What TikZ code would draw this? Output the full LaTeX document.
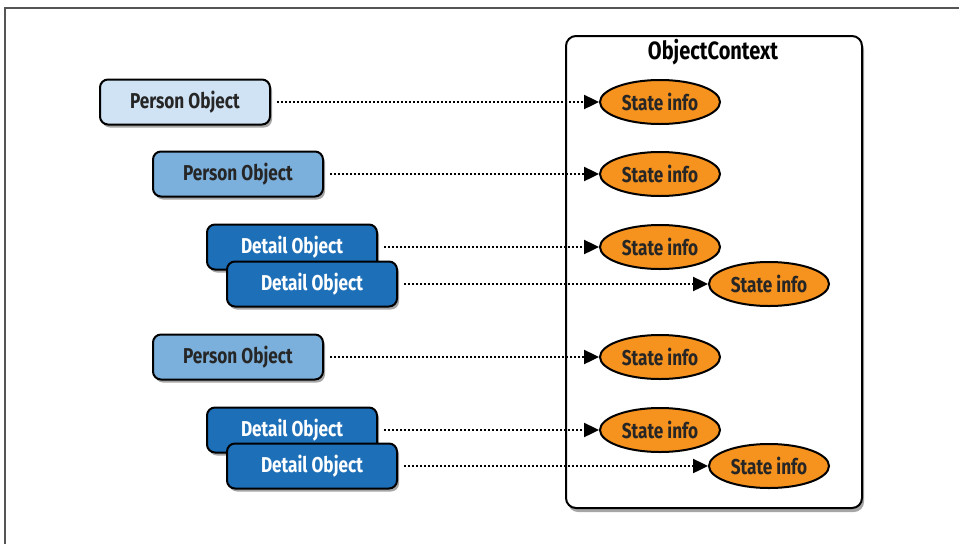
\documentclass[tikz,border=0pt]{standalone}
\usepackage{fontspec}
\setmainfont{Fira Sans}[FakeStretch=0.8]
\usetikzlibrary{shapes.geometric,shadows,arrows.meta}
\definecolor{lightblue}{HTML}{CFE3F4}
\definecolor{midblue}{HTML}{7BB0DC}
\definecolor{darkblue}{HTML}{1D6FB8}
\definecolor{orangefill}{HTML}{F6921E}
\definecolor{framegray}{HTML}{555555}
\tikzset{
  objbox/.style={draw=black, line width=2pt, rounded corners=8pt, minimum width=170pt, minimum height=45pt,
    inner sep=0pt, font=\fontsize{21.5}{24}\selectfont\bfseries,
    drop shadow={shadow xshift=2pt, shadow yshift=-3pt, opacity=0.35, fill=black}},
  person1/.style={objbox, fill=lightblue, text=black!85},
  person2/.style={objbox, fill=midblue, text=black!85},
  detail/.style={objbox, fill=darkblue, text=white},
  stateinfo/.style={ellipse, draw=black, line width=2pt, fill=orangefill, minimum width=120pt, minimum height=44pt,
    inner sep=0pt, font=\fontsize{21.5}{24}\selectfont\bfseries, text=black!85},
  ctxbox/.style={draw=black, line width=2pt, rounded corners=10pt, fill=white,
    drop shadow={shadow xshift=2pt, shadow yshift=-4pt, opacity=0.35, fill=black}},
  conn/.style={line width=2.4pt, dash pattern=on 2.2pt off 1.8pt, shorten <=6pt,
    -{Triangle[length=15pt,width=14pt]}},
}
\begin{document}
\begin{tikzpicture}[x=1pt,y=-1pt]
\useasboundingbox (0,0) rectangle (959,544);
\fill[white] (0,0) rectangle (959,544);
% outer frame (top and left edges)
\coordinate (ftl) at (5,8);
\coordinate (ftr) at (959,8);
\coordinate (fbl) at (5,544);
\draw[framegray, line width=2pt] (fbl) -- (ftl) -- (ftr);
% context box
\draw[ctxbox] (566,36) rectangle (862,508);
\node[font=\fontsize{25}{28}\selectfont\bfseries] (title) at (713,52) {ObjectContext};
% left objects
\node[person1] (p1) at (185,102) {Person Object};
\node[person2] (p2) at (238,174) {Person Object};
\node[detail] (d1) at (292,247) {Detail Object};
\node[detail] (d2) at (312,284) {Detail Object};
\node[person2] (p3) at (238,357) {Person Object};
\node[detail] (d3) at (292,430) {Detail Object};
\node[detail] (d4) at (312,466) {Detail Object};
% state info ellipses
\node[stateinfo] (s1) at (660,102) {State info};
\node[stateinfo] (s2) at (660,174) {State info};
\node[stateinfo] (s3) at (660,247) {State info};
\node[stateinfo] (s4) at (769,284) {State info};
\node[stateinfo] (s5) at (660,357) {State info};
\node[stateinfo] (s6) at (660,430) {State info};
\node[stateinfo] (s7) at (769,466) {State info};
% connectors
\draw[conn] (p1.east) -- (s1.west);
\draw[conn] (p2.east) -- (s2.west);
\draw[conn] (d1.east) -- (s3.west);
\draw[conn] (d2.east) -- (s4.west);
\draw[conn] (p3.east) -- (s5.west);
\draw[conn] (d3.east) -- (s6.west);
\draw[conn] (d4.east) -- (s7.west);
\end{tikzpicture}
\end{document}
